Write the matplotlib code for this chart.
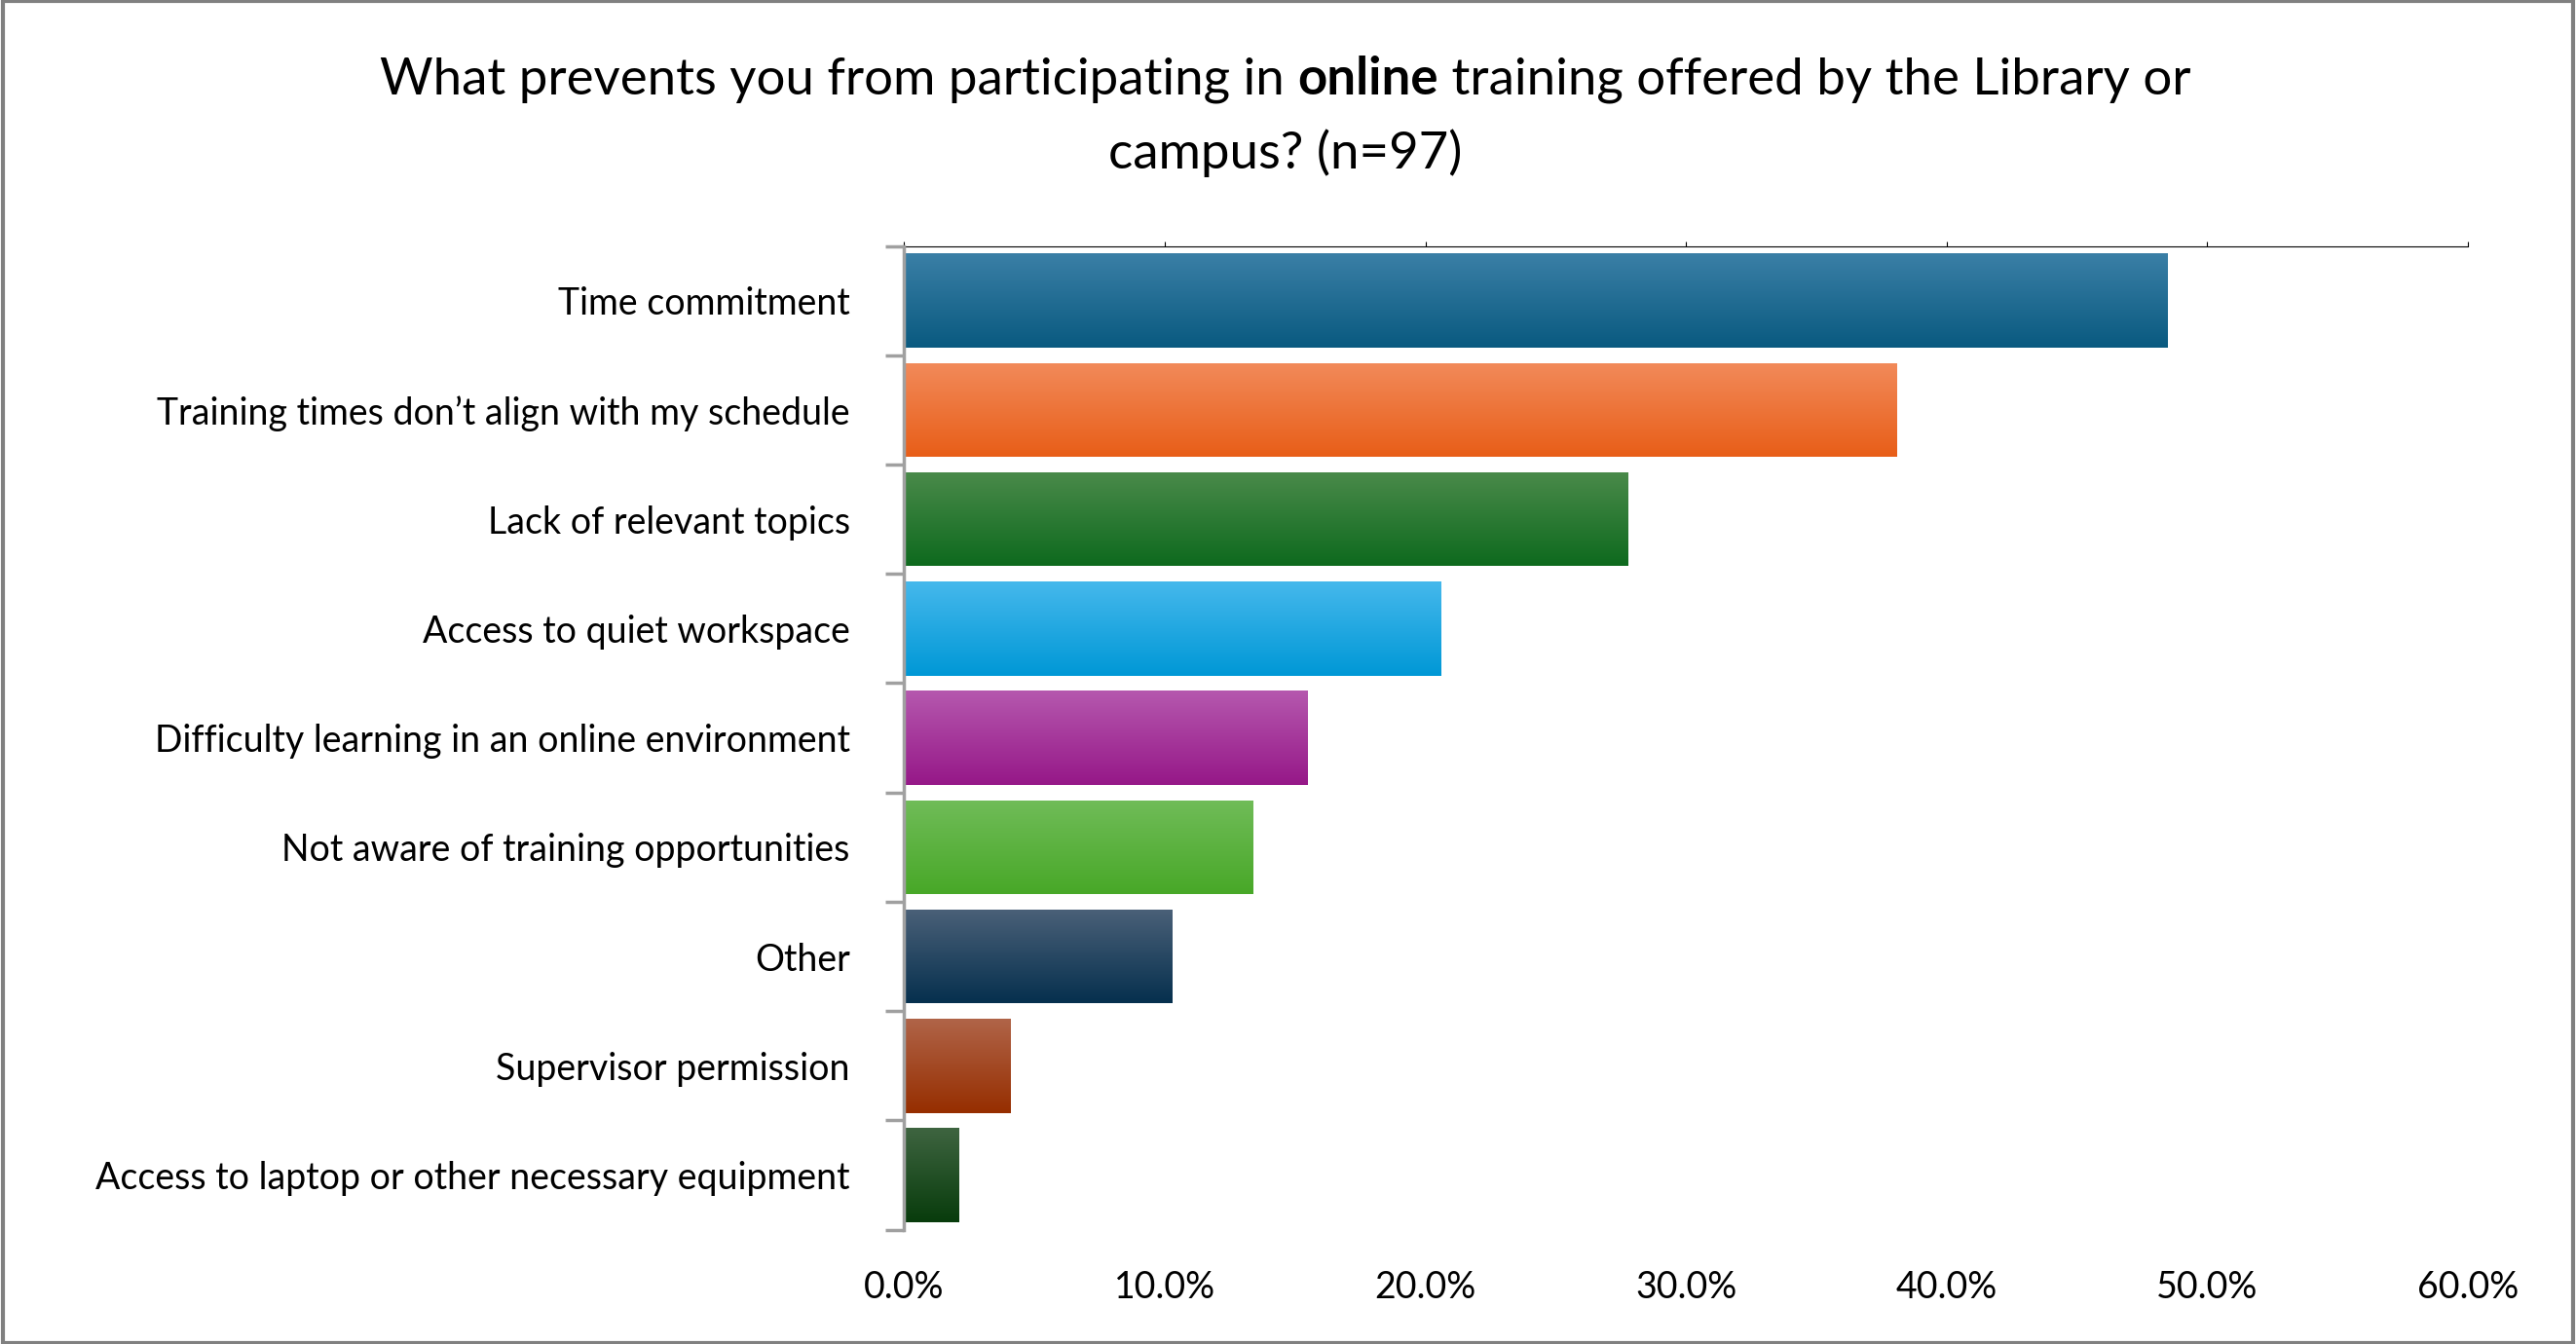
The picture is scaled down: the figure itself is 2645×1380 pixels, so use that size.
import numpy as np
import matplotlib
matplotlib.use("Agg")
import matplotlib.pyplot as plt
from matplotlib.colors import LinearSegmentedColormap
from matplotlib.patches import Rectangle

plt.rcParams['font.family'] = ['Lato', 'DejaVu Sans']

categories = ["Time commitment", "Training times don\u2019t align with my schedule",
              "Lack of relevant topics", "Access to quiet workspace",
              "Difficulty learning in an online environment",
              "Not aware of training opportunities", "Other",
              "Supervisor permission", "Access to laptop or other necessary equipment"]
values = [48.5, 38.1, 27.8, 20.6, 15.5, 13.4, 10.3, 4.1, 2.1]
top_colors = ["#3A7FA6", "#F28A5A", "#4A8A4A", "#45B8EC", "#B558AE",
              "#70BC58", "#4A6078", "#B06448", "#3E6440"]
bot_colors = ["#0A5A80", "#E85E18", "#0E6A1E", "#0098D6", "#961888",
              "#48A828", "#06304E", "#962E00", "#083C0C"]

fig = plt.figure(figsize=(26.45, 13.8), dpi=100)
ax = fig.add_axes([0.351, 0.085, 0.607, 0.732])

n = len(categories)
ax.set_xlim(0, 60)
ax.set_ylim(n - 0.5, -0.5)
for i, (v, c1, c2) in enumerate(zip(values, top_colors, bot_colors)):
    cmap = LinearSegmentedColormap.from_list("g", [c1, c2])
    y0, y1 = i - 0.43, i + 0.43
    im = ax.imshow(np.linspace(0, 1, 100).reshape(-1, 1), cmap=cmap, aspect='auto',
                   extent=[0, v, y1, y0], zorder=2)
    rect = Rectangle((0, y0), v, y1 - y0, facecolor='none', edgecolor='none')
    ax.add_patch(rect)
    im.set_clip_path(rect)
ax.set_xlim(0, 60)
ax.set_ylim(n - 0.5, -0.5)

ax.set_yticks(range(n))
ax.set_yticklabels(categories, fontsize=27)
ax.set_yticks(np.arange(-0.5, n, 1), minor=True)
ax.tick_params(axis='y', which='major', length=0, pad=40)
ax.tick_params(axis='y', which='minor', length=14, width=2.5, color='#A0A0A0')
ax.set_xticks(np.arange(0, 61, 10))
ax.set_xticklabels([f"{t:.1f}%" for t in range(0, 61, 10)], fontsize=27)
ax.tick_params(axis='x', which='major', length=0, pad=30)
# tick marks on top spine
ax.secondary_xaxis('top').set_xticks(np.arange(0, 61, 10), labels=[])
for sax in fig.axes[1:]:
    sax.tick_params(length=12, width=2.5, color='#A0A0A0')
    sax.spines['top'].set_color('#A0A0A0')
    sax.spines['top'].set_linewidth(2.5)
for s in ['right', 'bottom', 'top']:
    ax.spines[s].set_visible(False)
ax.spines['left'].set_color('#A0A0A0')
ax.spines['left'].set_linewidth(2.5)

# title with bold word
fs = 38
parts = [("What prevents you from participating in ", 'normal'), ("online", 'bold'),
         (" training offered by the Library or", 'normal')]
r = fig.canvas.get_renderer()
texts = [fig.text(0, 0.93, p, fontsize=fs, fontweight=w, ha='left', va='baseline') for p, w in parts]
widths = [t.get_window_extent(r).width for t in texts]
x = (fig.bbox.width * 0.499 - sum(widths) / 2)
for t, w in zip(texts, widths):
    t.set_x(x / fig.bbox.width)
    x += w
fig.text(0.499, 0.875, "campus? (n=97)", fontsize=fs, ha='center', va='baseline')

fig.patches.append(Rectangle((0.001, 0.001), 0.998, 0.998, transform=fig.transFigure,
                             fill=False, edgecolor='#808080', linewidth=3))
fig.savefig("out.png", dpi=100)
